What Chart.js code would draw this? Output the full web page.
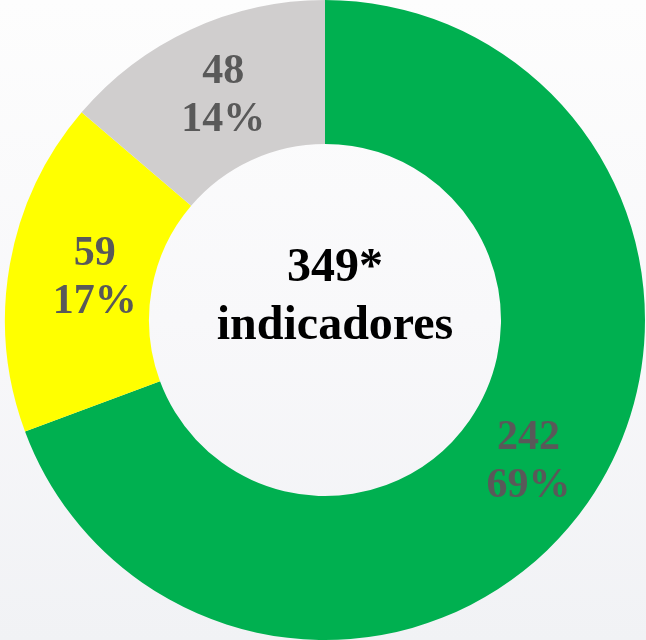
<!DOCTYPE html>
<html>
<head>
<meta charset="utf-8">
<script src="https://cdn.jsdelivr.net/npm/chart.js@4/dist/chart.umd.min.js"></script>
<style>
    html, body { margin: 0; padding: 0; }
    body {
        width: 646px; height: 640px; overflow: hidden;
        background: linear-gradient(180deg, #fdfdfd 0%, #f8f8fa 50%, #f1f2f5 100%);
    }
    #wrap { position: relative; width: 646px; height: 640px; }
</style>
</head>
<body>
<div id="wrap"><canvas id="indicadoresChart"></canvas></div>
<script>
// Data (clockwise from 12 o'clock)
const categories = ['Verde', 'Amarelo', 'Cinza'];
const values = [242, 59, 48];
const sliceColors = ['#00b050', '#ffff00', '#d0cece'];
const centerLines = ['349*', 'indicadores'];

const total = values.reduce((a, b) => a + b, 0);

// small horizontal nudges for the slice labels (px)
const labelNudgeX = [0, 14, 2];

// Draws "value / percent" in the middle of each slice, plus the centre text
const sliceLabels = {
    id: 'sliceLabels',
    afterDatasetsDraw(chart) {
        const ctx = chart.ctx;
        const meta = chart.getDatasetMeta(0);
        ctx.save();
        ctx.textAlign = 'center';
        ctx.textBaseline = 'middle';
        ctx.font = 'bold 42px "Liberation Serif", "Times New Roman", serif';
        ctx.fillStyle = '#595959';
        meta.data.forEach((arc, i) => {
            const p = arc.getCenterPoint();
            const x = p.x + labelNudgeX[i];
            const pct = Math.round(values[i] / total * 100) + '%';
            ctx.fillText(String(values[i]), x, p.y - 23);
            ctx.fillText(pct, x, p.y + 25);
        });

        // centre text
        const cx = (chart.chartArea.left + chart.chartArea.right) / 2 + 10;
        const cy = (chart.chartArea.top + chart.chartArea.bottom) / 2;
        ctx.fillStyle = '#000000';
        ctx.font = 'bold 48px "Liberation Serif", "Times New Roman", serif';
        ctx.fillText(centerLines[0], cx, cy - 51);
        ctx.fillText(centerLines[1], cx, cy + 7);
        ctx.restore();
    }
};

new Chart(document.getElementById('indicadoresChart'), {
    type: 'doughnut',
    data: {
        labels: categories,
        datasets: [{
            data: values,
            backgroundColor: sliceColors,
            borderWidth: 0,
            hoverOffset: 0
        }]
    },
    options: {
        responsive: true,
        maintainAspectRatio: false,
        animation: false,
        cutout: '55%',
        layout: { padding: { left: 4, right: 0, top: 0, bottom: 0 } },
        plugins: {
            legend: { display: false },
            tooltip: { enabled: false }
        }
    },
    plugins: [sliceLabels]
});
</script>
</body>
</html>
